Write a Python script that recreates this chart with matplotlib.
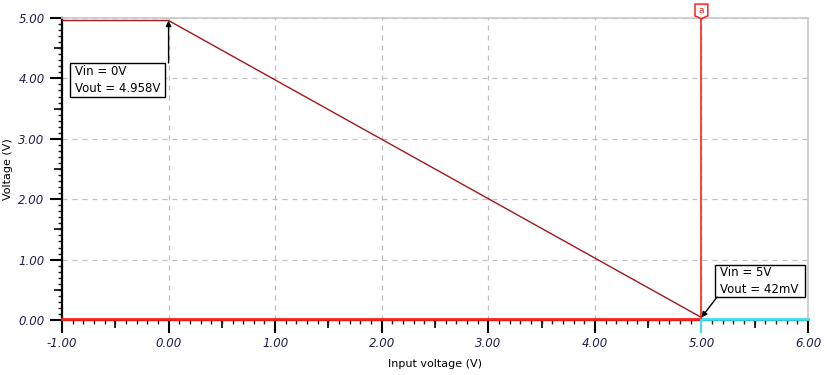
import numpy as np
import matplotlib.pyplot as plt
from matplotlib.ticker import MultipleLocator
from matplotlib.patches import Rectangle, Polygon

# Transfer curve data
vin = [-1.0, 0.0, 5.0]
vout = [4.958, 4.958, 0.042]
ref_x = [-1.0, 5.0]   # red trace along 0 V
ref_y = [0.0, 0.0]
tail_x = [5.0, 6.0]   # cyan trace after cursor
tail_y = [0.0, 0.0]
cursor_x = 5.0

xticks = [-1, 0, 1, 2, 3, 4, 5, 6]
yticks = [0, 1, 2, 3, 4, 5]
tick_color = '#1f1f4f'

plt.rcParams['font.family'] = ['DejaVu Sans']

fig = plt.figure(figsize=(8.28, 3.75), dpi=100)
ax = fig.add_axes([62 / 828, 1 - 320 / 375, (808 - 62) / 828, (320 - 18) / 375])

ax.set_xlim(-1, 6)
ax.set_ylim(0, 5)

# grid
ax.set_xticks(xticks)
ax.set_yticks(yticks)
ax.grid(True, color='#c0c0c0', linestyle=(0, (4, 4)), linewidth=0.9)
ax.set_axisbelow(True)

ax.xaxis.set_minor_locator(MultipleLocator(0.1))
ax.yaxis.set_minor_locator(MultipleLocator(0.1))
ax.tick_params(which='major', length=9, width=1.5, color='black', direction='out')
ax.tick_params(which='minor', length=3.0, width=1.0, color='#202020', direction='out')
ax.set_xticklabels([f'{t:.2f}' for t in xticks], fontsize=8.5, style='italic', color=tick_color)
ax.set_yticklabels([f'{t:.2f}' for t in yticks], fontsize=8.5, style='italic', color=tick_color)

# longer half-step ticks
sx = ax.secondary_xaxis('bottom')
sx.set_xticks(np.arange(-0.5, 6, 1.0))
sx.tick_params(length=6, width=1.2, labelbottom=False, direction='out')
sx.spines['bottom'].set_visible(False)
sy = ax.secondary_yaxis('left')
sy.set_yticks(np.arange(0.5, 5, 1.0))
sy.tick_params(length=6, width=1.2, labelleft=False, direction='out')
sy.spines['left'].set_visible(False)

for side in ['left', 'bottom']:
    ax.spines[side].set_linewidth(1.6)
    ax.spines[side].set_color('black')
for side in ['top', 'right']:
    ax.spines[side].set_linewidth(1.2)
    ax.spines[side].set_color('#c8c8c8')

# traces
ax.plot(ref_x, [y + 0.01 for y in ref_y], color='#ff2020', linewidth=2.0, clip_on=False, zorder=4)
ax.plot(tail_x, [y + 0.01 for y in tail_y], color='#40e0f0', linewidth=2.0, clip_on=False, zorder=4)
ax.plot(vin, vout, color='#a01818', linewidth=1.0, zorder=5)

# cursor with flag marker on top
ax.plot([cursor_x, cursor_x], [0, 5.0], color='#ff2020', linewidth=1.2, clip_on=False, zorder=6)
ax.plot([cursor_x, cursor_x], [0, -0.2], color='#40e0f0', linewidth=1.5, clip_on=False, zorder=6)
fw, fb, ft, fp = 0.06, 5.035, 5.23, 4.99
flag = Polygon([[cursor_x - fw, ft], [cursor_x + fw, ft], [cursor_x + fw, fb],
                [cursor_x, fp], [cursor_x - fw, fb]], closed=True,
               fc='white', ec='#ff2020', lw=1.1, clip_on=False, zorder=7)
ax.add_patch(flag)
ax.text(cursor_x, 5.13, 'a', fontsize=6.5, color='#ff2020', ha='center', va='center',
        clip_on=False, zorder=8)

ax.set_xlabel('Input voltage (V)', fontsize=8, labelpad=6)
ax.set_ylabel('Voltage (V)', fontsize=8, labelpad=4)

# annotation boxes
box1 = (-0.925, 3.69, 0.891, 0.565)
box2 = (5.127, 0.381, 0.843, 0.529)
for (bx, by, bw, bh), txt in [(box1, 'Vin = 0V\nVout = 4.958V'), (box2, 'Vin = 5V\nVout = 42mV')]:
    ax.add_patch(Rectangle((bx, by), bw, bh, fc='white', ec='black', lw=1.0, zorder=8))
    ax.text(bx + 0.05, by + bh / 2, txt, fontsize=8.5, ha='left', va='center',
            linespacing=1.45, zorder=9)

ax.annotate('', xy=(vin[1], vout[1]), xytext=(vin[1], box1[1] + box1[3]),
            arrowprops=dict(arrowstyle='-|>', color='black', lw=1.0, shrinkA=0, shrinkB=0,
                            mutation_scale=8), zorder=9)
ax.annotate('', xy=(vin[2], vout[2]), xytext=(box2[0] + 0.02, box2[1]),
            arrowprops=dict(arrowstyle='-|>', color='black', lw=1.0, shrinkA=0, shrinkB=0,
                            mutation_scale=8), zorder=9)

fig.savefig('out.png', dpi=100)
